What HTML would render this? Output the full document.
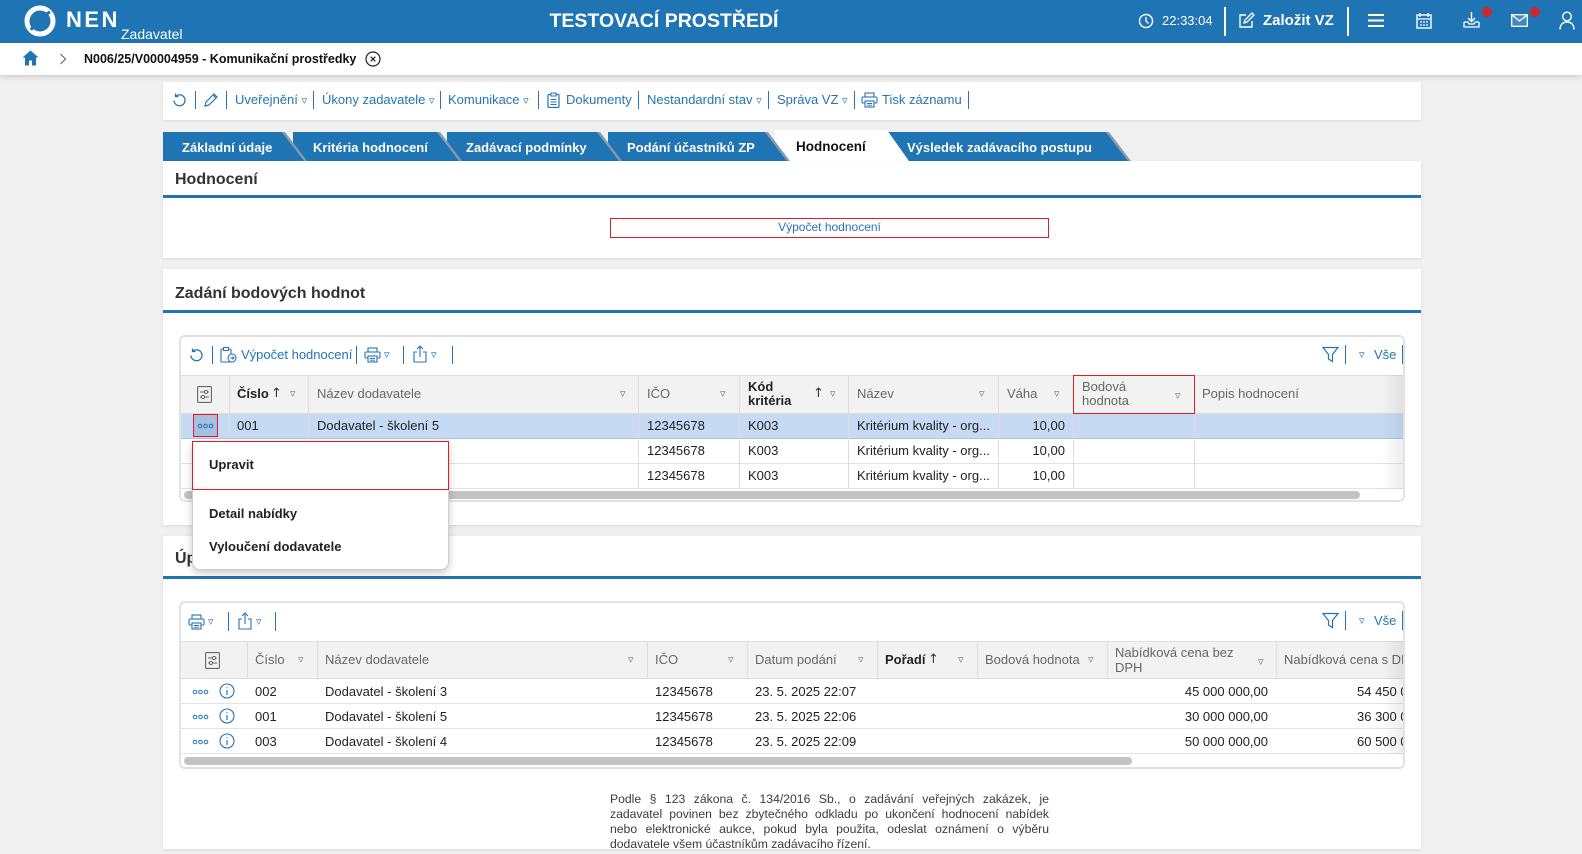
<!DOCTYPE html>
<html><head><meta charset="utf-8"><title>NEN</title>
<style>
*{margin:0;padding:0;box-sizing:border-box}
html,body{width:1582px;height:854px;overflow:hidden}
body{background:#f0f0f0;font-family:"Liberation Sans","DejaVu Sans",sans-serif;position:relative;color:#222}
.a{position:absolute;white-space:nowrap}
.f13{font-size:13px;line-height:16px}
.tr{font-family:"DejaVu Sans",sans-serif;font-size:11px;line-height:16px;color:#777}
.bl{color:#2474b5}
.sep{position:absolute;width:1px;background:#2474b5}
.vl{position:absolute;width:1px;background:#dcdcdc}
.hd{color:#666}
.b{font-weight:bold;color:#222}
.pl{position:absolute;left:610px;width:439px;font-size:12.2px;line-height:15px;color:#3c3c3c;text-align:justify;text-align-last:justify;white-space:nowrap}
</style></head><body>

<!-- TOP HEADER -->
<div class="a" style="left:0;top:0;width:1582px;height:43px;background:#1f74b4"></div>
<svg class="a" style="left:23px;top:4px" width="34" height="34" viewBox="0 0 34 34">
 <circle cx="17" cy="17" r="13" fill="none" stroke="#fff" stroke-width="5"/>
 <path d="M8 26 Q15 14 27 8" stroke="#1f74b4" stroke-width="3" fill="none"/>
</svg>
<div class="a" style="left:66px;top:8px;font-size:22px;line-height:24px;font-weight:bold;color:#fff;letter-spacing:2.5px">NEN</div>
<div class="a" style="left:121px;top:26px;font-size:14px;line-height:16px;color:#fff">Zadavatel</div>
<div class="a" style="left:0;width:1328px;text-align:center;top:10px;font-size:19.5px;line-height:22px;font-weight:bold;color:#fff">TESTOVACÍ PROSTŘEDÍ</div>

<svg class="a" style="left:1138px;top:13px" width="16" height="16" viewBox="0 0 16 16"><circle cx="8" cy="8" r="6.5" fill="none" stroke="#fff" stroke-width="1.4"/><path d="M8 4v4l2.5 2.5" stroke="#fff" stroke-width="1.4" fill="none"/></svg>
<div class="a f13" style="left:1162px;top:13px;color:#fff">22:33:04</div>
<div class="a" style="left:1224px;top:7px;width:2px;height:29px;background:#fff"></div>
<svg class="a" style="left:1238px;top:12px" width="17" height="17" viewBox="0 0 17 17"><path d="M8 3H2v12h12V9" fill="none" stroke="#fff" stroke-width="1.4"/><path d="M6 11l1-3 7-7 2 2-7 7z" fill="none" stroke="#fff" stroke-width="1.3"/></svg>
<div class="a" style="left:1263px;top:12px;font-size:15px;line-height:18px;font-weight:bold;color:#fff">Založit VZ</div>
<div class="a" style="left:1347px;top:7px;width:2px;height:29px;background:#fff"></div>
<svg class="a" style="left:1368px;top:13px" width="16" height="15" viewBox="0 0 16 15"><path d="M0 2h16M0 7.5h16M0 13h16" stroke="#fff" stroke-width="2"/></svg>
<svg class="a" style="left:1416px;top:12px" width="16" height="17" viewBox="0 0 16 17"><rect x="1" y="3" width="14" height="13" fill="none" stroke="#fff" stroke-width="1.4"/><path d="M4 1v4M12 1v4M1 7h14M4 10h2M7 10h2M10 10h2M4 13h2M7 13h2M10 13h2" stroke="#fff" stroke-width="1.3"/></svg>
<svg class="a" style="left:1463px;top:11px" width="17" height="18" viewBox="0 0 17 18"><path d="M8.5 1v9M5 7l3.5 3.5L12 7" fill="none" stroke="#fff" stroke-width="1.4"/><path d="M1 11v5h15v-5M1 11h4l1 2h5l1-2h4" fill="none" stroke="#fff" stroke-width="1.3"/></svg>
<div class="a" style="left:1482px;top:7px;width:10px;height:10px;border-radius:50%;background:#cf2630"></div>
<svg class="a" style="left:1511px;top:14px" width="17" height="13" viewBox="0 0 17 13"><rect x="0.7" y="0.7" width="15.6" height="11.6" fill="#fff" fill-opacity="0.15" stroke="#fff" stroke-width="1.3"/><path d="M1 1l7.5 6L16 1" fill="none" stroke="#fff" stroke-width="1.3"/></svg>
<div class="a" style="left:1530px;top:7px;width:10px;height:10px;border-radius:50%;background:#cf2630"></div>
<svg class="a" style="left:1559px;top:11px" width="16" height="19" viewBox="0 0 16 19"><circle cx="8" cy="5.5" r="4.3" fill="none" stroke="#fff" stroke-width="1.4"/><path d="M1 18.5c0-5 3-7.5 7-7.5s7 2.5 7 7.5" fill="none" stroke="#fff" stroke-width="1.4"/></svg>

<!-- BREADCRUMB -->
<div class="a" style="left:0;top:43px;width:1582px;height:32px;background:#fff;box-shadow:0 2px 5px rgba(0,0,0,.14)"></div>
<svg class="a" style="left:22px;top:50px" width="17" height="16" viewBox="0 0 17 16"><path d="M8.5 0.5L0.5 7.5h2.5v8h4v-5h3v5h4v-8h2.5z" fill="#1f74b4"/></svg>
<svg class="a" style="left:59px;top:53px" width="8" height="12" viewBox="0 0 8 12"><path d="M1.5 1l5 5-5 5" fill="none" stroke="#666" stroke-width="1.1"/></svg>
<div class="a" style="left:84px;top:51px;font-size:12.5px;line-height:16px;font-weight:bold;color:#111">N006/25/V00004959 - Komunikační prostředky</div>
<svg class="a" style="left:365px;top:51px" width="16" height="16" viewBox="0 0 16 16"><circle cx="8" cy="8" r="7" fill="none" stroke="#222" stroke-width="1.2"/><path d="M5.7 5.7l4.6 4.6M10.3 5.7l-4.6 4.6" stroke="#222" stroke-width="1.2"/></svg>

<!-- TOOLBAR PANEL -->
<div class="a" style="left:163px;top:82px;width:1258px;height:38px;background:#fff;box-shadow:0 1px 3px rgba(0,0,0,.1)"></div>
<svg class="a" style="left:171px;top:92px" width="16" height="16" viewBox="0 0 16 16"><path d="M3 8.5a5.5 5.5 0 1 0 2-4.5" fill="none" stroke="#2474b5" stroke-width="1.3"/><path d="M4.5 1.5v3h3" fill="none" stroke="#2474b5" stroke-width="1.3"/></svg>
<div class="sep" style="left:195px;top:91px;height:18px"></div>
<svg class="a" style="left:203px;top:92px" width="16" height="16" viewBox="0 0 16 16"><path d="M2 14l1-4 8-8 3 3-8 8z M10 3l3 3" fill="none" stroke="#2474b5" stroke-width="1.2"/></svg>
<div class="sep" style="left:226px;top:91px;height:18px"></div>
<div class="a f13 bl" style="left:235px;top:92px">Uveřejnění <span class="tr" style="color:#2474b5">▿</span></div>
<div class="sep" style="left:313px;top:91px;height:18px"></div>
<div class="a f13 bl" style="left:322px;top:92px">Úkony zadavatele <span class="tr" style="color:#2474b5">▿</span></div>
<div class="sep" style="left:440px;top:91px;height:18px"></div>
<div class="a f13 bl" style="left:448px;top:92px">Komunikace <span class="tr" style="color:#2474b5">▿</span></div>
<div class="sep" style="left:538px;top:91px;height:18px"></div>
<svg class="a" style="left:547px;top:92px" width="13" height="16" viewBox="0 0 13 16"><rect x="1" y="2.5" width="11" height="13" rx="1" fill="none" stroke="#2474b5" stroke-width="1.2"/><rect x="4" y="1" width="5" height="3" fill="#fff" stroke="#2474b5" stroke-width="1"/><path d="M3.5 7.5h6M3.5 10h6M3.5 12.5h6" stroke="#2474b5" stroke-width="1"/></svg>
<div class="a f13 bl" style="left:566px;top:92px">Dokumenty</div>
<div class="sep" style="left:638px;top:91px;height:18px"></div>
<div class="a f13 bl" style="left:647px;top:92px">Nestandardní stav <span class="tr" style="color:#2474b5">▿</span></div>
<div class="sep" style="left:768px;top:91px;height:18px"></div>
<div class="a f13 bl" style="left:777px;top:92px">Správa VZ <span class="tr" style="color:#2474b5">▿</span></div>
<div class="sep" style="left:854px;top:91px;height:18px"></div>
<svg class="a" style="left:861px;top:92px" width="17" height="16" viewBox="0 0 17 16"><rect x="4" y="1" width="9" height="4" fill="none" stroke="#2474b5" stroke-width="1.1"/><rect x="1" y="5" width="15" height="6" rx="1" fill="none" stroke="#2474b5" stroke-width="1.1"/><rect x="4" y="9" width="9" height="6" fill="#fff" stroke="#2474b5" stroke-width="1.1"/><path d="M6 11.5h5M6 13.2h5" stroke="#2474b5" stroke-width="0.9"/></svg>
<div class="a f13 bl" style="left:882px;top:92px">Tisk záznamu</div>
<div class="sep" style="left:968px;top:91px;height:18px"></div>

<!-- TABS -->
<svg class="a" style="left:0;top:0" width="1582" height="165" viewBox="0 0 1582 165">
 <g font-family="Liberation Sans, DejaVu Sans, sans-serif" font-weight="bold" font-size="13">
  <polygon points="1106,132 1109,132 1131,161 1128,161" fill="#8a9aa8"/>
  <polygon points="880,132 1106,132 1128,161 880,161" fill="#1f74b4"/>
  <text x="907" y="152" fill="#fff">Výsledek zadávacího postupu</text>
  <polygon points="775,130 887,130 909,161 775,161" fill="#fff"/>
  <text x="796" y="151" fill="#111" font-size="13.5">Hodnocení</text>
  <polygon points="765,132 768,132 790,161 787,161" fill="#8a9aa8"/>
  <polygon points="608,132 765,132 787,161 608,161" fill="#1f74b4"/>
  <text x="627" y="152" fill="#fff">Podání účastníků ZP</text>
  <polygon points="597,132 600,132 622,161 619,161" fill="#8a9aa8"/>
  <polygon points="447,132 597,132 619,161 447,161" fill="#1f74b4"/>
  <text x="466" y="152" fill="#fff">Zadávací podmínky</text>
  <polygon points="437,132 440,132 462,161 459,161" fill="#8a9aa8"/>
  <polygon points="293,132 437,132 459,161 293,161" fill="#1f74b4"/>
  <text x="313" y="152" fill="#fff">Kritéria hodnocení</text>
  <polygon points="282,132 285,132 307,161 304,161" fill="#8a9aa8"/>
  <polygon points="163,132 282,132 304,161 163,161" fill="#1f74b4"/>
  <text x="182" y="152" fill="#fff">Základní údaje</text>
 </g>
</svg>

<!-- PANEL 1 -->
<div class="a" style="left:163px;top:161px;width:1258px;height:97px;background:#fff;box-shadow:0 1px 3px rgba(0,0,0,.1)"></div>
<div class="a" style="left:175px;top:170px;font-size:16px;line-height:19px;font-weight:bold;color:#333">Hodnocení</div>
<div class="a" style="left:163px;top:195px;width:1258px;height:3px;background:#1f74b4"></div>
<div class="a" style="left:610px;top:218px;width:439px;height:20px;border:1.5px solid #e31b23;background:#fff;text-align:center;font-size:12px;line-height:17px;color:#2474b5">Výpočet hodnocení</div>

<!-- PANEL 2 -->
<div class="a" style="left:163px;top:269px;width:1258px;height:256px;background:#fff;box-shadow:0 1px 3px rgba(0,0,0,.1)"></div>
<div class="a" style="left:175px;top:284px;font-size:16px;line-height:19px;font-weight:bold;color:#333">Zadání bodových hodnot</div>
<div class="a" style="left:163px;top:310px;width:1258px;height:3px;background:#1f74b4"></div>
<div class="a" style="left:179px;top:335px;width:1226px;height:167px;border:2px solid #e2e2e2;border-radius:6px;background:#fff"></div>

<!-- grid1 toolbar -->
<svg class="a" style="left:188px;top:347px" width="16" height="16" viewBox="0 0 16 16"><path d="M3 8.5a5.5 5.5 0 1 0 2-4.5" fill="none" stroke="#2474b5" stroke-width="1.3"/><path d="M4.5 1.5v3h3" fill="none" stroke="#2474b5" stroke-width="1.3"/></svg>
<div class="sep" style="left:212px;top:346px;height:18px"></div>
<svg class="a" style="left:220px;top:346px" width="17" height="17" viewBox="0 0 17 17"><rect x="1" y="3" width="10" height="13" rx="1" fill="none" stroke="#2474b5" stroke-width="1.1"/><rect x="3.5" y="1.5" width="5" height="3" fill="#fff" stroke="#2474b5" stroke-width="1"/><circle cx="12" cy="12" r="4" fill="#fff" stroke="#2474b5" stroke-width="1.1"/><path d="M10 12h4M12.5 10.5l1.5 1.5-1.5 1.5" fill="none" stroke="#2474b5" stroke-width="0.9"/></svg>
<div class="a f13 bl" style="left:241px;top:347px">Výpočet hodnocení</div>
<div class="sep" style="left:356px;top:346px;height:18px"></div>
<svg class="a" style="left:364px;top:347px" width="17" height="16" viewBox="0 0 17 16"><rect x="4" y="1" width="9" height="4" fill="none" stroke="#2474b5" stroke-width="1.1"/><rect x="1" y="5" width="15" height="6" rx="1" fill="none" stroke="#2474b5" stroke-width="1.1"/><rect x="4" y="9" width="9" height="6" fill="#fff" stroke="#2474b5" stroke-width="1.1"/><path d="M6 11.5h5M6 13.2h5" stroke="#2474b5" stroke-width="0.9"/></svg>
<div class="a tr" style="left:384px;top:347px;color:#2474b5">▿</div>
<div class="sep" style="left:403px;top:346px;height:18px"></div>
<svg class="a" style="left:412px;top:345px" width="16" height="18" viewBox="0 0 16 18"><path d="M5 7H2v10h12V7h-3" fill="none" stroke="#2474b5" stroke-width="1.1"/><path d="M8 12V1M5 4l3-3 3 3" fill="none" stroke="#2474b5" stroke-width="1.1"/></svg>
<div class="a tr" style="left:431px;top:347px;color:#2474b5">▿</div>
<div class="sep" style="left:452px;top:346px;height:18px"></div>
<svg class="a" style="left:1322px;top:346px" width="17" height="17" viewBox="0 0 17 17"><path d="M1 1.5h15l-5.5 7v7l-4-2.5v-4.5z" fill="none" stroke="#2474b5" stroke-width="1.2"/></svg>
<div class="sep" style="left:1345px;top:345px;height:19px"></div>
<div class="a tr" style="left:1359px;top:347px;color:#2474b5">▿</div>
<div class="a f13 bl" style="left:1374px;top:347px">Vše</div>
<div class="sep" style="left:1402px;top:345px;height:19px"></div>

<!-- grid1 header -->
<div class="a" style="left:181px;top:375px;width:1222px;height:39px;background:#f2f2f2;border-top:1px solid #e0e0e0;border-bottom:1px solid #dcdcdc"></div>
<div class="a" style="left:181px;top:414px;width:1222px;height:25px;background:#c6dbf3;border-bottom:1px solid #a9c6e8"></div>
<div class="a" style="left:181px;top:439px;width:1222px;height:25px;border-bottom:1px solid #e3e3e3"></div>
<div class="a" style="left:181px;top:464px;width:1222px;height:25px;border-bottom:1px solid #e3e3e3"></div>
<div class="vl" style="left:229px;top:375px;height:114px"></div>
<div class="vl" style="left:308px;top:375px;height:114px"></div>
<div class="vl" style="left:638px;top:375px;height:114px"></div>
<div class="vl" style="left:739px;top:375px;height:114px"></div>
<div class="vl" style="left:848px;top:375px;height:114px"></div>
<div class="vl" style="left:998px;top:375px;height:114px"></div>
<div class="vl" style="left:1073px;top:375px;height:114px"></div>
<div class="vl" style="left:1194px;top:375px;height:114px"></div>

<svg class="a" style="left:197px;top:386px" width="15" height="17" viewBox="0 0 15 17"><rect x="0.6" y="0.6" width="13.8" height="15.8" rx="1" fill="none" stroke="#666" stroke-width="1.1"/><path d="M3 6h9M3 11h9" stroke="#666" stroke-width="1"/><circle cx="9" cy="6" r="1.6" fill="#f2f2f2" stroke="#666"/><circle cx="6" cy="11" r="1.6" fill="#f2f2f2" stroke="#666"/></svg>
<div class="a f13 b" style="left:237px;top:386px">Číslo</div>
<div class="a f13" style="left:271px;top:386px;color:#333;font-family:'DejaVu Sans',sans-serif">↑</div>
<div class="a tr" style="left:290px;top:386px">▿</div>
<div class="a f13 hd" style="left:317px;top:386px">Název dodavatele</div>
<div class="a tr" style="left:620px;top:386px">▿</div>
<div class="a f13 hd" style="left:647px;top:386px">IČO</div>
<div class="a tr" style="left:720px;top:386px">▿</div>
<div class="a b" style="left:748px;top:380px;font-size:13px;line-height:14px">Kód<br>kritéria</div>
<div class="a f13" style="left:813px;top:386px;color:#333;font-family:'DejaVu Sans',sans-serif">↑</div>
<div class="a tr" style="left:830px;top:386px">▿</div>
<div class="a f13 hd" style="left:857px;top:386px">Název</div>
<div class="a tr" style="left:979px;top:386px">▿</div>
<div class="a f13 hd" style="left:1007px;top:386px">Váha</div>
<div class="a tr" style="left:1054px;top:386px">▿</div>
<div class="a hd" style="left:1082px;top:380px;font-size:13px;line-height:14px">Bodová<br>hodnota</div>
<div class="a tr" style="left:1175px;top:388px">▿</div>
<div class="a f13 hd" style="left:1202px;top:386px">Popis hodnocení</div>
<div class="a" style="left:1073px;top:375px;width:122px;height:39px;border:1.5px solid #e31b23"></div>

<!-- grid1 rows -->
<div class="a" style="left:193px;top:414px;width:25px;height:23px;background:#a6c0e0;border:1.5px solid #e31b23"></div>
<svg class="a" style="left:197px;top:423px" width="17" height="6" viewBox="0 0 17 6"><circle cx="3" cy="3" r="1.8" fill="none" stroke="#2474b5" stroke-width="1"/><circle cx="8.5" cy="3" r="1.8" fill="none" stroke="#2474b5" stroke-width="1"/><circle cx="14" cy="3" r="1.8" fill="none" stroke="#2474b5" stroke-width="1"/></svg>
<div class="a f13" style="left:237px;top:418px">001</div>
<div class="a f13" style="left:317px;top:418px">Dodavatel - školení 5</div>
<div class="a f13" style="left:647px;top:418px">12345678</div>
<div class="a f13" style="left:748px;top:418px">K003</div>
<div class="a f13" style="left:857px;top:418px">Kritérium kvality - org...</div>
<div class="a f13" style="left:998px;top:418px;width:67px;text-align:right">10,00</div>
<div class="a f13" style="left:647px;top:443px">12345678</div>
<div class="a f13" style="left:748px;top:443px">K003</div>
<div class="a f13" style="left:857px;top:443px">Kritérium kvality - org...</div>
<div class="a f13" style="left:998px;top:443px;width:67px;text-align:right">10,00</div>
<div class="a f13" style="left:647px;top:468px">12345678</div>
<div class="a f13" style="left:748px;top:468px">K003</div>
<div class="a f13" style="left:857px;top:468px">Kritérium kvality - org...</div>
<div class="a f13" style="left:998px;top:468px;width:67px;text-align:right">10,00</div>
<div class="a" style="left:1382px;top:375px;width:21px;height:114px;background:linear-gradient(to right,rgba(0,0,0,0),rgba(0,0,0,.07))"></div>
<div class="a" style="left:184px;top:491px;width:1176px;height:8px;border-radius:4px;background:#c3c3c3"></div>

<!-- PANEL 3 -->
<div class="a" style="left:163px;top:536px;width:1258px;height:313px;background:#fff;box-shadow:0 1px 3px rgba(0,0,0,.1)"></div>
<div class="a" style="left:175px;top:549px;font-size:16px;line-height:19px;font-weight:bold;color:#333">Úplné pořadí</div>
<div class="a" style="left:163px;top:576px;width:1258px;height:3px;background:#1f74b4"></div>
<div class="a" style="left:179px;top:601px;width:1226px;height:168px;border:2px solid #e2e2e2;border-radius:6px;background:#fff"></div>

<!-- grid2 toolbar -->
<svg class="a" style="left:188px;top:614px" width="17" height="16" viewBox="0 0 17 16"><rect x="4" y="1" width="9" height="4" fill="none" stroke="#2474b5" stroke-width="1.1"/><rect x="1" y="5" width="15" height="6" rx="1" fill="none" stroke="#2474b5" stroke-width="1.1"/><rect x="4" y="9" width="9" height="6" fill="#fff" stroke="#2474b5" stroke-width="1.1"/><path d="M6 11.5h5M6 13.2h5" stroke="#2474b5" stroke-width="0.9"/></svg>
<div class="a tr" style="left:208px;top:614px;color:#2474b5">▿</div>
<div class="sep" style="left:228px;top:612px;height:19px"></div>
<svg class="a" style="left:237px;top:612px" width="16" height="18" viewBox="0 0 16 18"><path d="M5 7H2v10h12V7h-3" fill="none" stroke="#2474b5" stroke-width="1.1"/><path d="M8 12V1M5 4l3-3 3 3" fill="none" stroke="#2474b5" stroke-width="1.1"/></svg>
<div class="a tr" style="left:256px;top:614px;color:#2474b5">▿</div>
<div class="sep" style="left:275px;top:612px;height:19px"></div>
<svg class="a" style="left:1322px;top:612px" width="17" height="17" viewBox="0 0 17 17"><path d="M1 1.5h15l-5.5 7v7l-4-2.5v-4.5z" fill="none" stroke="#2474b5" stroke-width="1.2"/></svg>
<div class="sep" style="left:1345px;top:611px;height:19px"></div>
<div class="a tr" style="left:1359px;top:613px;color:#2474b5">▿</div>
<div class="a f13 bl" style="left:1374px;top:613px">Vše</div>
<div class="sep" style="left:1402px;top:611px;height:19px"></div>

<!-- grid2 header -->
<div class="a" style="left:181px;top:641px;width:1222px;height:38px;background:#f2f2f2;border-top:1px solid #e0e0e0;border-bottom:1px solid #dcdcdc"></div>
<div class="a" style="left:181px;top:679px;width:1222px;height:25px;border-bottom:1px solid #e3e3e3"></div>
<div class="a" style="left:181px;top:704px;width:1222px;height:25px;border-bottom:1px solid #e3e3e3"></div>
<div class="a" style="left:181px;top:729px;width:1222px;height:25px;border-bottom:1px solid #e3e3e3"></div>
<div class="vl" style="left:247px;top:641px;height:38px"></div>
<div class="vl" style="left:317px;top:641px;height:38px"></div>
<div class="vl" style="left:647px;top:641px;height:38px"></div>
<div class="vl" style="left:747px;top:641px;height:38px"></div>
<div class="vl" style="left:877px;top:641px;height:38px"></div>
<div class="vl" style="left:977px;top:641px;height:38px"></div>
<div class="vl" style="left:1107px;top:641px;height:38px"></div>
<div class="vl" style="left:1276px;top:641px;height:38px"></div>

<svg class="a" style="left:205px;top:652px" width="15" height="17" viewBox="0 0 15 17"><rect x="0.6" y="0.6" width="13.8" height="15.8" rx="1" fill="none" stroke="#666" stroke-width="1.1"/><path d="M3 6h9M3 11h9" stroke="#666" stroke-width="1"/><circle cx="9" cy="6" r="1.6" fill="#f2f2f2" stroke="#666"/><circle cx="6" cy="11" r="1.6" fill="#f2f2f2" stroke="#666"/></svg>
<div class="a f13 hd" style="left:255px;top:652px">Číslo</div>
<div class="a tr" style="left:298px;top:652px">▿</div>
<div class="a f13 hd" style="left:325px;top:652px">Název dodavatele</div>
<div class="a tr" style="left:628px;top:652px">▿</div>
<div class="a f13 hd" style="left:655px;top:652px">IČO</div>
<div class="a tr" style="left:728px;top:652px">▿</div>
<div class="a f13 hd" style="left:755px;top:652px">Datum podání</div>
<div class="a tr" style="left:858px;top:652px">▿</div>
<div class="a f13 b" style="left:885px;top:652px">Pořadí</div>
<div class="a f13" style="left:928px;top:652px;color:#333;font-family:'DejaVu Sans',sans-serif">↑</div>
<div class="a tr" style="left:958px;top:652px">▿</div>
<div class="a f13 hd" style="left:985px;top:652px">Bodová hodnota</div>
<div class="a tr" style="left:1088px;top:652px">▿</div>
<div class="a hd" style="left:1115px;top:645px;font-size:13px;line-height:15px">Nabídková cena bez<br>DPH</div>
<div class="a tr" style="left:1258px;top:654px">▿</div>
<div class="a" style="left:1277px;top:641px;width:126px;height:112px;overflow:hidden">
 <div class="a f13 hd" style="left:7px;top:11px">Nabídková cena s DPH</div>
 <div class="a f13" style="left:80px;top:43px">54 450 000,00</div>
 <div class="a f13" style="left:80px;top:68px">36 300 000,00</div>
 <div class="a f13" style="left:80px;top:93px">60 500 000,00</div>
</div>

<!-- grid2 rows -->
<svg class="a" style="left:192px;top:689px" width="17" height="6" viewBox="0 0 17 6"><circle cx="3" cy="3" r="1.8" fill="none" stroke="#2474b5" stroke-width="1"/><circle cx="8.5" cy="3" r="1.8" fill="none" stroke="#2474b5" stroke-width="1"/><circle cx="14" cy="3" r="1.8" fill="none" stroke="#2474b5" stroke-width="1"/></svg>
<svg class="a" style="left:219px;top:683px" width="16" height="16" viewBox="0 0 16 16"><circle cx="8" cy="8" r="7" fill="none" stroke="#2474b5" stroke-width="1.1"/><path d="M8 7v5M8 4.3v1" stroke="#2474b5" stroke-width="1.2"/></svg>
<div class="a f13" style="left:255px;top:684px">002</div>
<div class="a f13" style="left:325px;top:684px">Dodavatel - školení 3</div>
<div class="a f13" style="left:655px;top:684px">12345678</div>
<div class="a f13" style="left:755px;top:684px">23. 5. 2025 22:07</div>
<div class="a f13" style="left:1107px;top:684px;width:161px;text-align:right">45 000 000,00</div>

<svg class="a" style="left:192px;top:714px" width="17" height="6" viewBox="0 0 17 6"><circle cx="3" cy="3" r="1.8" fill="none" stroke="#2474b5" stroke-width="1"/><circle cx="8.5" cy="3" r="1.8" fill="none" stroke="#2474b5" stroke-width="1"/><circle cx="14" cy="3" r="1.8" fill="none" stroke="#2474b5" stroke-width="1"/></svg>
<svg class="a" style="left:219px;top:708px" width="16" height="16" viewBox="0 0 16 16"><circle cx="8" cy="8" r="7" fill="none" stroke="#2474b5" stroke-width="1.1"/><path d="M8 7v5M8 4.3v1" stroke="#2474b5" stroke-width="1.2"/></svg>
<div class="a f13" style="left:255px;top:709px">001</div>
<div class="a f13" style="left:325px;top:709px">Dodavatel - školení 5</div>
<div class="a f13" style="left:655px;top:709px">12345678</div>
<div class="a f13" style="left:755px;top:709px">23. 5. 2025 22:06</div>
<div class="a f13" style="left:1107px;top:709px;width:161px;text-align:right">30 000 000,00</div>

<svg class="a" style="left:192px;top:739px" width="17" height="6" viewBox="0 0 17 6"><circle cx="3" cy="3" r="1.8" fill="none" stroke="#2474b5" stroke-width="1"/><circle cx="8.5" cy="3" r="1.8" fill="none" stroke="#2474b5" stroke-width="1"/><circle cx="14" cy="3" r="1.8" fill="none" stroke="#2474b5" stroke-width="1"/></svg>
<svg class="a" style="left:219px;top:733px" width="16" height="16" viewBox="0 0 16 16"><circle cx="8" cy="8" r="7" fill="none" stroke="#2474b5" stroke-width="1.1"/><path d="M8 7v5M8 4.3v1" stroke="#2474b5" stroke-width="1.2"/></svg>
<div class="a f13" style="left:255px;top:734px">003</div>
<div class="a f13" style="left:325px;top:734px">Dodavatel - školení 4</div>
<div class="a f13" style="left:655px;top:734px">12345678</div>
<div class="a f13" style="left:755px;top:734px">23. 5. 2025 22:09</div>
<div class="a f13" style="left:1107px;top:734px;width:161px;text-align:right">50 000 000,00</div>

<div class="a" style="left:1382px;top:641px;width:21px;height:113px;background:linear-gradient(to right,rgba(0,0,0,0),rgba(0,0,0,.07))"></div>
<div class="a" style="left:184px;top:757px;width:948px;height:8px;border-radius:4px;background:#c3c3c3"></div>

<!-- paragraph -->
<div class="pl" style="top:792px">Podle § 123 zákona č. 134/2016 Sb., o zadávání veřejných zakázek, je</div>
<div class="pl" style="top:807px">zadavatel povinen bez zbytečného odkladu po ukončení hodnocení nabídek</div>
<div class="pl" style="top:822px">nebo elektronické aukce, pokud byla použita, odeslat oznámení o výběru</div>
<div class="a" style="left:610px;top:837px;font-size:12.2px;line-height:15px;color:#3c3c3c">dodavatele všem účastníkům zadávacího řízení.</div>

<!-- CONTEXT MENU -->
<div class="a" style="left:192px;top:441px;width:257px;height:129px;background:#fff;border:1px solid #cfcfcf;border-radius:0 0 8px 8px;box-shadow:0 3px 8px rgba(0,0,0,.22)"></div>
<div class="a" style="left:192px;top:441px;width:257px;height:49px;border:1.5px solid #e31b23"></div>
<div class="a f13 b" style="left:209px;top:457px">Upravit</div>
<div class="a f13 b" style="left:209px;top:506px">Detail nabídky</div>
<div class="a f13 b" style="left:209px;top:539px">Vyloučení dodavatele</div>

</body></html>
